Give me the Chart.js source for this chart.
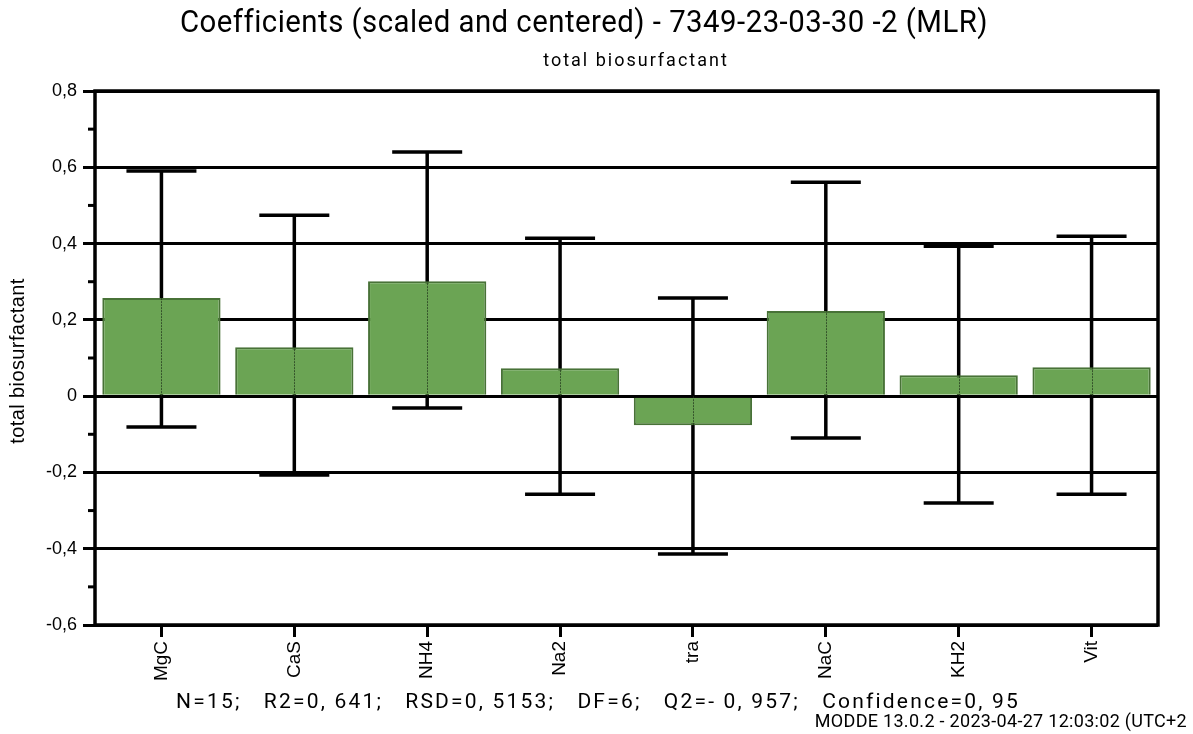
<!DOCTYPE html>
<html>
<head>
<meta charset="utf-8">
<script src="https://cdn.jsdelivr.net/npm/chart.js@4/dist/chart.umd.min.js"></script>
<style>
  html, body { margin: 0; padding: 0; background: #fff; }
  #wrap { width: 1193px; height: 734px; position: relative; }
</style>
</head>
<body>
<div id="wrap"><canvas id="myChart"></canvas></div>
<script>
// DATA
const terms = ["MgC", "CaS", "NH4", "Na2", "tra", "NaC", "KH2", "Vit"];
const coeffs = [0.257, 0.128, 0.301, 0.073, -0.076, 0.223, 0.055, 0.076];
const ciLow = [-0.081, -0.207, -0.031, -0.257, -0.414, -0.110, -0.280, -0.257];
const ciHigh = [0.590, 0.474, 0.640, 0.414, 0.257, 0.561, 0.393, 0.419];
const minorTicks = [0.7, 0.5, 0.3, 0.1, -0.1, -0.3, -0.5];

const titleText = "Coefficients (scaled and centered) - 7349-23-03-30 -2 (MLR)";
const subtitleText = "total biosurfactant";
const yTitle = "total biosurfactant";
const footerText = "N=15;   R2=0, 641;   RSD=0, 5153;   DF=6;   Q2=- 0, 957;   Confidence=0, 95";
const stampText = "MODDE 13.0.2 - 2023-04-27 12:03:02 (UTC+2";

const fmt = v => {
    const r = Math.round(v * 10) / 10;
    if (r === 0) return "0";
    return r.toFixed(1).replace(".", ",");
};

// draws text with spacing, squeezed to a given width
function spacedText(ctx, text, x, y, font, spacing, width) {
    ctx.font = font;
    ctx.letterSpacing = spacing + "px";
    ctx.fillText(text, x, y, width);
    ctx.letterSpacing = "0px";
}

// error bars go behind the bars, center line + frame + texts on top
const decorations = {
    id: "decorations",
    beforeDatasetsDraw(chart) {
        const ctx = chart.ctx;
        const meta = chart.getDatasetMeta(0);
        const y = chart.scales.y;
        ctx.save();
        ctx.strokeStyle = "#000";
        ctx.lineWidth = 3.5;
        meta.data.forEach((bar, i) => {
            const x = bar.x;
            const yl = y.getPixelForValue(ciLow[i]);
            const yh = y.getPixelForValue(ciHigh[i]);
            ctx.beginPath();
            ctx.moveTo(x, yl);
            ctx.lineTo(x, yh);
            ctx.moveTo(x - 35, yl);
            ctx.lineTo(x + 35, yl);
            ctx.moveTo(x - 35, yh);
            ctx.lineTo(x + 35, yh);
            ctx.stroke();
        });
        ctx.restore();
    },
    afterDatasetsDraw(chart) {
        const ctx = chart.ctx;
        const meta = chart.getDatasetMeta(0);
        const y = chart.scales.y;
        const a = chart.chartArea;
        ctx.save();
        // faint line where the error bar passes behind the bar
        ctx.strokeStyle = "rgba(30,50,25,0.7)";
        ctx.lineWidth = 1;
        ctx.setLineDash([2, 1]);
        meta.data.forEach((bar, i) => {
            ctx.beginPath();
            ctx.moveTo(Math.round(bar.x) + 0.5, y.getPixelForValue(0));
            ctx.lineTo(Math.round(bar.x) + 0.5, y.getPixelForValue(coeffs[i]));
            ctx.stroke();
        });
        ctx.setLineDash([]);
        // frame
        ctx.strokeStyle = "#000";
        ctx.lineWidth = 3.5;
        ctx.strokeRect(a.left, a.top, a.right - a.left, a.bottom - a.top);
        // minor ticks
        ctx.lineWidth = 3;
        minorTicks.forEach(v => {
            const py = y.getPixelForValue(v);
            ctx.beginPath();
            ctx.moveTo(a.left - 7, py);
            ctx.lineTo(a.left, py);
            ctx.stroke();
        });
        // texts
        ctx.fillStyle = "#000";
        ctx.textBaseline = "middle";
        ctx.textAlign = "center";
        spacedText(ctx, titleText, 584, 24, "31px Roboto", 0.5, 808);
        spacedText(ctx, subtitleText, 636, 61, "18px Roboto", 2, 186);
        spacedText(ctx, footerText, 598, 703, "21px Roboto", 2.2, 844);
        ctx.textAlign = "right";
        spacedText(ctx, stampText, 1187, 722, "18px Roboto", 0.3, 375);
        ctx.save();
        ctx.translate(18, 361);
        ctx.rotate(-Math.PI / 2);
        ctx.textAlign = "center";
        spacedText(ctx, yTitle, 0, 0, "20px 'Liberation Sans', Arial", 0.4, 173);
        ctx.restore();
        ctx.restore();
    }
};

const data = {
    labels: terms,
    datasets: [
        {
            label: "coefficients",
            data: coeffs,
            backgroundColor: "rgb(107,164,84)",
            borderColor: "rgb(72,114,55)",
            borderWidth: 2,
            barPercentage: 0.89,
            categoryPercentage: 1.0,
        },
    ],
};

const config = {
    type: "bar",
    data: data,
    plugins: [decorations],
    options: {
        responsive: true,
        maintainAspectRatio: false,
        animation: false,
        layout: {
            padding: { top: 91, right: 35, bottom: 0, left: 0 },
        },
        scales: {
            x: {
                grid: {
                    offset: false,
                    drawOnChartArea: false,
                    color: "#000",
                    lineWidth: 3,
                    tickLength: 12,
                },
                border: { display: false },
                ticks: {
                    minRotation: 90,
                    maxRotation: 90,
                    padding: 4,
                    color: "#000",
                    font: { family: "'Liberation Sans', Arial", size: 19 },
                },
                afterFit: s => { s.height = 109; },
            },
            y: {
                min: -0.6,
                max: 0.8,
                ticks: {
                    stepSize: 0.2,
                    padding: 6,
                    color: "#000",
                    font: { family: "'Liberation Sans', Arial", size: 18 },
                    callback: v => fmt(v),
                },
                grid: {
                    color: "#000",
                    lineWidth: 3,
                    tickLength: 12,
                },
                border: { display: false },
                afterFit: s => { s.width = 95; },
            },
        },
        plugins: {
            legend: { display: false },
            tooltip: { enabled: false },
        },
    },
};

const myChart = new Chart(document.getElementById("myChart"), config);
</script>
</body>
</html>
